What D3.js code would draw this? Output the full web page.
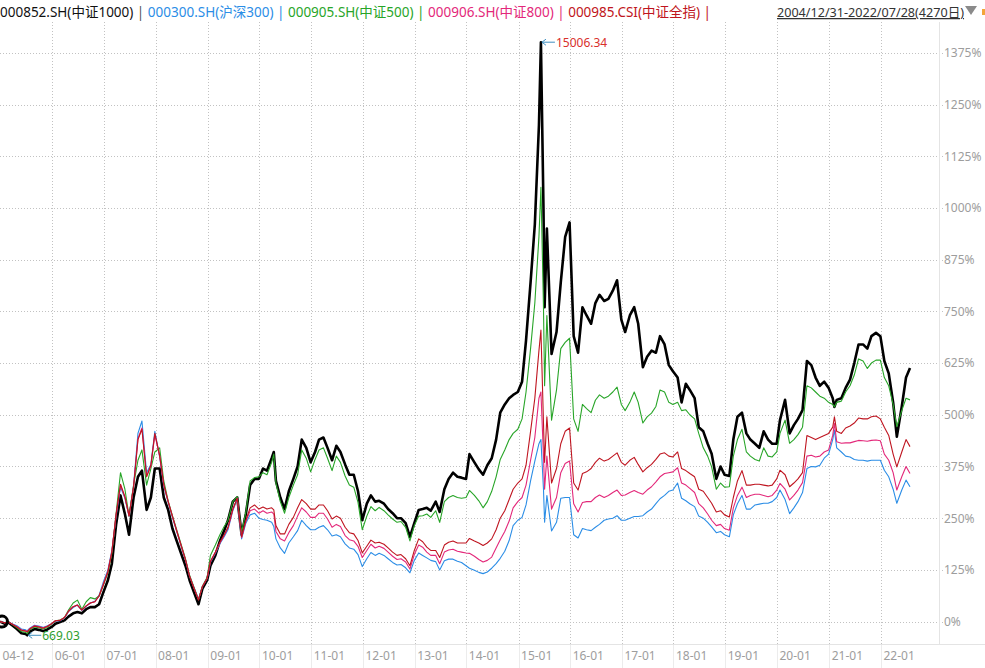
<!DOCTYPE html>
<html><head><meta charset="utf-8">
<script src="https://cdn.jsdelivr.net/npm/d3@7"></script>
<style>body{margin:0;background:#fff}svg{display:block}</style>
</head><body>
<svg id="chart" width="985" height="668"></svg>
<script>
// ---- DATA (percent change vs 2004-12-31) ----
const dates = [
 "2004-12-31","2005-01-31","2005-02-28","2005-03-31","2005-04-29","2005-05-31","2005-06-30","2005-07-11","2005-07-29","2005-08-31","2005-09-30","2005-10-31","2005-11-30","2005-12-30",
 "2006-01-26","2006-02-28","2006-03-31","2006-04-28","2006-05-31","2006-06-30","2006-07-31","2006-08-31","2006-09-29","2006-10-31","2006-11-30","2006-12-29",
 "2007-01-31","2007-02-28","2007-03-30","2007-04-30","2007-05-31","2007-06-29","2007-07-31","2007-08-31","2007-09-28","2007-10-31","2007-11-30","2007-12-28",
 "2008-01-31","2008-02-29","2008-03-31","2008-04-30","2008-05-30","2008-06-30","2008-07-31","2008-08-29","2008-09-30","2008-10-31","2008-11-28","2008-12-31",
 "2009-01-23","2009-02-27","2009-03-31","2009-04-30","2009-05-27","2009-06-30","2009-07-31","2009-08-31","2009-09-30","2009-10-30","2009-11-30","2009-12-31",
 "2010-01-29","2010-02-26","2010-03-31","2010-04-15","2010-04-30","2010-05-31","2010-06-30","2010-07-30","2010-08-31","2010-09-30","2010-10-29","2010-11-30","2010-12-31",
 "2011-01-31","2011-02-28","2011-03-31","2011-04-29","2011-05-31","2011-06-30","2011-07-29","2011-08-31","2011-09-30","2011-10-31","2011-11-30","2011-12-30",
 "2012-01-31","2012-02-29","2012-03-30","2012-04-27","2012-05-31","2012-06-29","2012-07-31","2012-08-31","2012-09-28","2012-10-31","2012-11-30","2012-12-31",
 "2013-01-31","2013-02-28","2013-03-29","2013-04-26","2013-05-31","2013-06-28","2013-07-31","2013-08-30","2013-09-30","2013-10-31","2013-11-29","2013-12-31",
 "2014-01-24","2014-02-28","2014-03-31","2014-04-30","2014-05-30","2014-06-30","2014-07-31","2014-08-29","2014-09-30","2014-10-31","2014-11-28","2014-12-31",
 "2015-01-30","2015-02-27","2015-03-31","2015-04-30","2015-05-29","2015-06-12","2015-06-30","2015-07-08","2015-07-24","2015-08-26","2015-09-30","2015-10-30","2015-11-30","2015-12-31",
 "2016-01-29","2016-02-29","2016-03-31","2016-04-29","2016-05-31","2016-06-30","2016-07-29","2016-08-31","2016-09-30","2016-10-31","2016-11-30","2016-12-30",
 "2017-01-26","2017-02-28","2017-03-31","2017-04-28","2017-05-31","2017-06-30","2017-07-31","2017-08-31","2017-09-29","2017-10-31","2017-11-30","2017-12-29",
 "2018-01-31","2018-02-28","2018-03-30","2018-04-27","2018-05-31","2018-06-29","2018-07-31","2018-08-31","2018-09-28","2018-10-31","2018-11-30","2018-12-28",
 "2019-01-31","2019-02-28","2019-03-29","2019-04-30","2019-05-31","2019-06-28","2019-07-31","2019-08-30","2019-09-30","2019-10-31","2019-11-29","2019-12-31",
 "2020-01-23","2020-02-28","2020-03-31","2020-04-30","2020-05-29","2020-06-30","2020-07-31","2020-08-31","2020-09-30","2020-10-30","2020-11-30","2020-12-31",
 "2021-01-29","2021-02-10","2021-02-26","2021-03-31","2021-04-30","2021-05-31","2021-06-30","2021-07-30","2021-08-31","2021-09-30","2021-10-29","2021-11-30","2021-12-31",
 "2022-01-28","2022-02-28","2022-03-31","2022-04-26","2022-05-31","2022-06-30","2022-07-28"
];
const csi1000 = [
 0,-5,-2,-10,-18,-28,-30,-33.1,-24,-18,-20,-23,-19,-13,
 -5,-1,3,12,20,23,20,30,35,35,42,70,
 100,140,235,305,260,210,300,350,365,270,300,370,
 370,300,270,225,195,165,135,100,70,42,80,100,
 135,160,195,220,245,290,300,210,260,330,345,345,
 370,365,395,410,340,300,272,315,345,375,440,420,385,
 410,440,445,420,390,425,410,380,355,355,315,245,
 285,305,290,292,285,272,262,250,250,238,205,238,
 270,272,275,268,290,265,320,345,360,350,348,345,
 405,385,368,355,378,395,440,505,525,540,548,555,
 580,680,820,960,1200,1400.63,1000,760,950,647,700,820,930,965,
 690,650,760,740,720,770,790,775,780,800,825,730,
 700,740,760,720,615,640,655,650,690,670,620,605,
 590,530,575,560,540,470,460,430,406,345,375,355,
 352,440,495,505,455,440,430,420,460,440,430,430,
 487,536,455,475,490,511,630,620,590,570,580,565,
 540,519,536,540,565,585,625,670,670,660,690,698,690,
 630,600,530,447,520,590,613
];
const hs300 = [
 0,-2,-1,-6,-10,-18,-20,-22,-16,-9,-11,-14,-10,-5,
 1,2,9,24,34,40,27,37,45,49,64,95,
 125,172,255,325,298,255,328,455,485,360,380,460,
 398,328,288,252,218,183,149,110,82,55,85,104,
 143,165,188,205,222,268,296,200,238,258,262,250,
 247,245,240,230,200,178,165,190,205,220,245,232,222,
 222,228,232,222,207,210,205,188,178,175,162,133,
 152,167,160,165,160,152,143,137,138,130,118,148,
 166,160,154,148,145,125,147,151,151,146,143,135,
 129,124,119,116,120,129,140,153,170,196,232,245,
 252,282,340,388,430,440,320,240,305,219,240,298,300,300,
 210,202,225,222,220,228,235,245,248,250,256,245,
 245,250,254,254,256,265,272,285,297,305,315,318,
 335,298,292,285,278,255,250,240,229,215,218,210,
 205,258,285,305,272,272,282,284,286,286,290,300,
 318,295,261,275,290,312,370,375,374,378,395,405,
 440,463,420,410,400,398,392,390,390,388,390,390,390,
 366,350,320,286,318,342,326
];
const csi500 = [
 0,-3,0,-8,-15,-24,-26,-29,-20,-13,-15,-18,-14,-6,
 2,4,10,28,45,52,30,48,58,55,62,88,
 118,165,262,360,320,255,330,390,415,330,370,410,
 420,340,292,256,222,187,152,112,82,53,86,107,
 160,185,210,230,245,290,302,215,265,340,348,350,
 360,355,385,405,335,290,262,300,330,355,415,395,362,
 392,415,420,395,365,400,385,352,330,325,288,222,
 255,278,268,276,268,258,248,240,242,228,195,232,
 255,256,260,252,268,240,290,300,305,300,298,300,
 317,305,292,275,290,315,350,392,415,440,455,465,
 490,555,660,770,930,1050,760,570,740,487,560,660,675,685,
 490,460,525,515,505,535,548,540,545,555,567,525,
 510,530,555,530,480,495,504,520,560,555,530,525,
 530,510,512,500,490,455,420,400,374,320,335,325,
 326,400,440,465,410,400,392,388,420,400,398,410,
 455,487,431,440,452,470,570,565,555,545,540,530,
 525,519,530,533,555,570,596,635,630,612,625,632,632,
 590,570,525,471,510,540,536
];
const csi800 = [
 0,-3,-1,-7,-12,-20,-22,-24,-17,-10,-12,-15,-11,-5,
 2,3,10,25,36,40,28,38,45,48,62,90,
 122,170,258,330,300,255,326,442,468,352,376,452,
 400,330,290,254,219,184,150,110,80,53,85,105,
 145,167,190,208,226,270,298,203,242,268,272,262,
 268,262,265,260,218,200,195,215,232,255,275,265,252,
 252,262,262,248,228,235,230,208,198,195,182,155,
 172,187,178,182,177,168,158,150,152,144,127,162,
 185,180,168,160,160,140,168,173,175,170,168,166,
 165,158,150,144,148,156,178,198,218,243,275,290,
 300,330,390,445,540,555,400,320,400,272,300,360,382,388,
 285,265,288,290,290,300,306,300,305,312,318,305,
 306,312,317,312,308,318,326,338,350,358,360,362,
 372,335,330,322,312,285,275,260,245,232,235,225,
 221,275,305,325,300,305,308,308,305,302,305,318,
 334,320,294,305,318,336,400,402,398,400,410,415,
 450,479,435,431,432,432,435,438,437,436,438,439,437,
 405,390,360,318,350,375,358
];
const csiAll = [
 0,-3,-1,-7,-13,-21,-23,-25,-18,-11,-13,-16,-12,-5,
 2,3,10,25,36,40,28,38,45,48,62,88,
 120,168,260,332,302,256,325,440,465,350,378,455,
 402,332,290,255,220,185,150,110,80,52,85,105,
 145,168,192,210,228,272,298,205,245,275,282,272,
 277,272,275,270,232,212,212,235,252,275,295,285,272,
 272,282,282,268,248,255,250,228,215,212,196,166,
 182,197,190,192,187,178,168,160,162,152,135,172,
 200,193,180,172,172,155,185,192,195,190,190,190,
 201,195,190,184,190,200,222,250,268,295,320,335,
 345,378,460,540,655,705,480,385,495,335,370,430,460,468,
 335,318,358,362,370,385,395,388,392,400,408,385,
 378,390,397,380,362,372,380,392,405,408,400,398,
 410,370,365,358,350,320,315,300,286,265,268,258,
 253,300,340,365,330,330,332,332,330,328,330,345,
 366,355,326,335,345,360,450,445,440,445,450,455,
 470,495,460,455,468,473,480,492,490,490,495,497,490,
 470,450,405,374,410,440,423
];
const seriesNames = ["000852.SH(中证1000)","000300.SH(沪深300)","000905.SH(中证500)","000906.SH(中证800)","000985.CSI(中证全指)"];
const seriesColors = ["#000000","#2b8de6","#28a528","#e3287a","#bf1520"];
const seriesWidths = [2.6,1.1,1.1,1.1,1.1];
const seriesValues = [csi1000, hs300, csi500, csi800, csiAll];
const yTicks = [0,125,250,375,500,625,750,875,1000,1125,1250,1375];
const xTickDates = ["2004-12-31","2006-01-04","2007-01-04","2008-01-02","2009-01-05","2010-01-04","2011-01-04","2012-01-04","2013-01-04","2014-01-02","2015-01-05","2016-01-04","2017-01-03","2018-01-02","2019-01-02","2020-01-02","2021-01-04","2022-01-04"];
const xTickLabels = ["04-12","06-01","07-01","08-01","09-01","10-01","11-01","12-01","13-01","14-01","15-01","16-01","17-01","18-01","19-01","20-01","21-01","22-01"];
const rangeLabel = "2004/12/31-2022/07/28(4270日)";
const extremeDates = ["2015-06-12","2005-07-11"];
const extremeLabels = ["15006.34","669.03"];
const extremeColors = ["#d9302c","#2e9e2e"];

// ---- DRAW ----
const parse = d3.timeParse("%Y-%m-%d");
const svg = d3.select("#chart");
const W = 985, H = 668;
const plotRight = 939, plotTop = 22, plotBottom = 644;
const x = d3.scaleTime().domain([parse(dates[0]), parse(dates[dates.length-1])]).range([0, 910]);
const y = d3.scaleLinear().domain([0, 1375]).range([621.6, 52.8]);
const gridColor = "#c2c2c2";

svg.append("g").selectAll("line").data(yTicks).join("line")
  .attr("x1", 0).attr("x2", plotRight + 4)
  .attr("y1", d => Math.round(y(d)) + 0.5).attr("y2", d => Math.round(y(d)) + 0.5)
  .attr("stroke", gridColor).attr("stroke-dasharray", "1,2");
const xt = xTickDates.map(parse);
svg.append("g").selectAll("line").data(xt.slice(1)).join("line")
  .attr("x1", d => Math.round(x(d)) + 0.5).attr("x2", d => Math.round(x(d)) + 0.5)
  .attr("y1", plotTop).attr("y2", plotBottom)
  .attr("stroke", gridColor).attr("stroke-dasharray", "1,2");
svg.append("g").selectAll("line").data(xt.slice(1)).join("line")
  .attr("x1", d => Math.round(x(d)) + 0.5).attr("x2", d => Math.round(x(d)) + 0.5)
  .attr("y1", plotBottom).attr("y2", H)
  .attr("stroke", "#ececec");
svg.append("line").attr("x1", 0).attr("x2", W).attr("y1", plotBottom + 0.5).attr("y2", plotBottom + 0.5).attr("stroke", "#e4e4e4");
svg.append("line").attr("x1", plotRight + 0.5).attr("x2", plotRight + 0.5).attr("y1", plotTop).attr("y2", plotBottom).attr("stroke", "#e4e4e4");

svg.append("g").selectAll("text").data(yTicks).join("text")
  .attr("x", plotRight + 5).attr("y", d => y(d)).attr("dy", "0.36em")
  .attr("font-family", "'Noto Sans', 'DejaVu Sans', sans-serif").attr("font-size", 12)
  .attr("fill", "#9d9d9d").text(d => d + "%");
svg.append("g").selectAll("text").data(xt).join("text")
  .attr("x", d => x(d) + 2.5).attr("y", 660)
  .attr("font-family", "'Noto Sans', 'DejaVu Sans', sans-serif").attr("font-size", 12)
  .attr("fill", "#9d9d9d").text((d, i) => xTickLabels[i]);

const line = d3.line().x(d => x(d.date)).y(d => y(d.v));
[0, 1, 2, 3, 4].forEach(i => {
  const pts = dates.map((d, k) => ({date: parse(d), v: seriesValues[i][k]}));
  svg.append("path").datum(pts).attr("d", line)
    .attr("fill", "none").attr("stroke", seriesColors[i])
    .attr("stroke-width", seriesWidths[i]).attr("stroke-linejoin", "round");
});
svg.append("circle").attr("cx", x(parse(dates[0])) + 2).attr("cy", y(csi1000[0]))
  .attr("r", 5.5).attr("fill", "none").attr("stroke", "#000").attr("stroke-width", 3);

extremeDates.forEach((ds, i) => {
  const k = dates.indexOf(ds);
  const px = x(parse(ds)), py = y(csi1000[k]);
  const g = svg.append("g");
  g.append("path").attr("d", `M${px+1},${py}L${px+14},${py}M${px+1},${py}L${px+5},${py-3}M${px+1},${py}L${px+5},${py+3}`)
    .attr("stroke", "#3f8fbf").attr("stroke-width", 1).attr("fill", "none");
  g.append("text").attr("x", px + 15).attr("y", py).attr("dy", "0.36em")
    .attr("font-family", "'Noto Sans', 'DejaVu Sans', sans-serif").attr("font-size", 12)
    .attr("fill", extremeColors[i]).text(extremeLabels[i]);
});

const head = svg.append("text").attr("x", 0).attr("y", 17)
  .attr("font-family", "'Noto Sans', 'Noto Sans CJK SC', sans-serif").attr("font-size", 13.5)
  .style("white-space", "pre");
seriesNames.forEach((n, i) => {
  head.append("tspan").attr("fill", seriesColors[i] === "#000000" ? "#111" : seriesColors[i]).text(n);
  head.append("tspan").attr("fill", seriesColors[i] === "#000000" ? "#555" : seriesColors[i]).text(" | ");
});
svg.append("text").attr("x", 777).attr("y", 17)
  .attr("font-family", "'Noto Sans', 'Noto Sans CJK SC', sans-serif").attr("font-size", 12.6)
  .attr("fill", "#333").attr("text-decoration", "underline").text(rangeLabel);
svg.append("path").attr("d", "M965,6L977,6L971,15Z").attr("fill", "#8a8a8a");
svg.append("rect").attr("x", 982).attr("y", 9).attr("width", 3).attr("height", 6).attr("fill", "#f3a53a");
</script>
</body></html>
